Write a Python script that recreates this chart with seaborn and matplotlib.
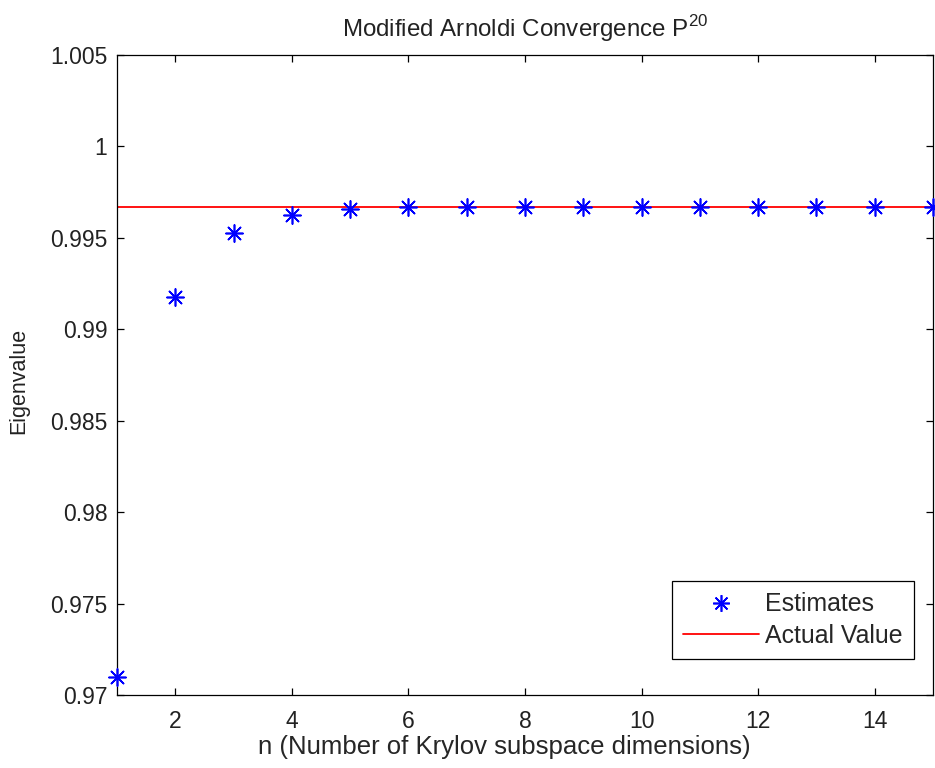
import matplotlib
matplotlib.use("Agg")
import matplotlib.pyplot as plt
import seaborn as sns
import numpy as np
import pandas as pd
from matplotlib.lines import Line2D

# ---- data ----
n_values = [1, 2, 3, 4, 5, 6, 7, 8, 9, 10, 11, 12, 13, 14, 15]
estimates = [0.9710, 0.99177, 0.99525, 0.99625, 0.99660, 0.99668, 0.99668, 0.99668,
             0.99668, 0.99668, 0.99668, 0.99668, 0.99668, 0.99668, 0.99668]
actual_value = 0.99668
x_ticks = [2, 4, 6, 8, 10, 12, 14]
y_ticks = [0.97, 0.975, 0.98, 0.985, 0.99, 0.995, 1.0, 1.005]
y_tick_labels = ["0.97", "0.975", "0.98", "0.985", "0.99", "0.995", "1", "1.005"]

sns.set_style("ticks")
plt.rcParams["font.family"] = ["Liberation Sans", "DejaVu Sans"]
plt.rcParams["mathtext.fontset"] = "custom"
plt.rcParams["mathtext.rm"] = "Liberation Sans"

df = pd.DataFrame({"n": n_values, "est": estimates})

W, H = 935, 768
fig = plt.figure(figsize=(W / 100, H / 100), dpi=100)
ax = fig.add_axes([117 / W, 73 / H, 816 / W, 640 / H])

ax.axhline(actual_value, color="#ff0000", lw=1.3, zorder=2)
sns.scatterplot(data=df, x="n", y="est", marker=(8, 2, 0), color="#0000ff",
                s=150, linewidth=1.2, ax=ax, zorder=3, clip_on=False, legend=False)

ax.set_xlim(1, 15)
ax.set_ylim(0.97, 1.005)
ax.set_xticks(x_ticks)
ax.set_xticklabels([str(t) for t in x_ticks])
ax.set_yticks(y_ticks)
ax.set_yticklabels(y_tick_labels)

for s in ax.spines.values():
    s.set_visible(True)
    s.set_linewidth(0.9)
    s.set_color("black")
ax.tick_params(direction="in", top=True, right=True, length=5, width=0.9,
               labelsize=16.5, colors="black")
ax.tick_params(axis="x", pad=11)
ax.tick_params(axis="y", pad=7)
for lab in ax.get_xticklabels() + ax.get_yticklabels():
    lab.set_color("#222222")

ax.set_title("Modified Arnoldi Convergence P$^{\\mathregular{20}}$", fontsize=17.4,
             pad=13, color="#222222")
ax.set_xlabel("n (Number of Krylov subspace dimensions)", fontsize=18.5)
ax.xaxis.set_label_coords((504 - 117) / 816, -0.063)
ax.set_ylabel("Eigenvalue", fontsize=15.5, color="#222222")
ax.yaxis.set_label_coords(-(117 - 29) / 816, 0.49)

handles = [
    Line2D([], [], marker=(8, 2, 0), color="#0000ff", ls="none", ms=12, mew=1.2),
    Line2D([], [], color="#ff0000", lw=1.3),
]
leg = ax.legend(handles, ["Estimates", "Actual Value"], loc="lower right",
                bbox_to_anchor=((914 - 117) / 816, (695 - 659) / 640),
                borderaxespad=0, fontsize=17.9, frameon=True, fancybox=False,
                edgecolor="black", framealpha=1, handlelength=3.05,
                borderpad=0.45, labelspacing=0.3, handletextpad=0.25)
leg.get_frame().set_linewidth(0.9)

fig.savefig("out.png", dpi=100, facecolor="white")
